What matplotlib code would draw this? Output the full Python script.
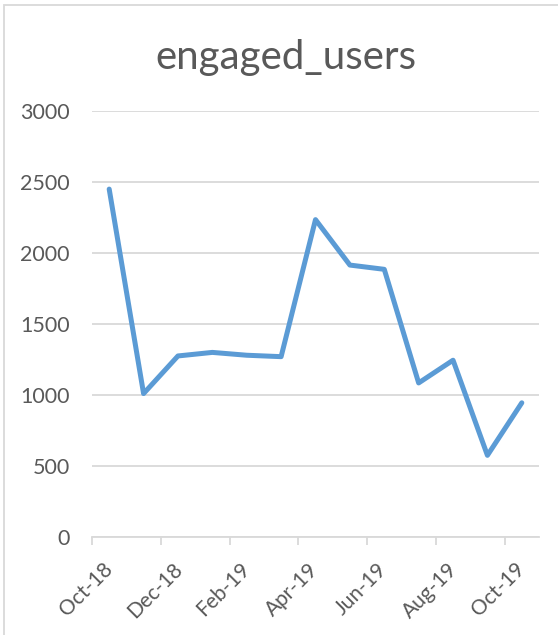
import matplotlib
matplotlib.use("Agg")
import matplotlib.pyplot as plt
import matplotlib.transforms as mtransforms
from matplotlib.patches import Rectangle

# 월별 값
months = ["Oct-18", "Nov-18", "Dec-18", "Jan-19", "Feb-19", "Mar-19", "Apr-19",
          "May-19", "Jun-19", "Jul-19", "Aug-19", "Sep-19", "Oct-19"]
engaged_users = [2450, 1010, 1275, 1300, 1280, 1270, 2235,
                 1915, 1885, 1085, 1245, 575, 945]
y_ticks = [0, 500, 1000, 1500, 2000, 2500, 3000]

LINE = "#5B9BD5"
GRID = "#D9D9D9"
TEXT = "#595959"
FONT = "Lato"

W, H = 558, 635
fig = plt.figure(figsize=(W / 100, H / 100), dpi=100)
# plot area: x 92..539 px, y 111..537 px
ax = fig.add_axes([92 / W, 1 - 537 / H, (539 - 92) / W, (537 - 111) / H])

xs = list(range(len(months)))
ax.plot(xs, engaged_users, color=LINE, lw=3.6, solid_capstyle="round",
        solid_joinstyle="round", zorder=3)

ax.set_xlim(-0.5, len(months) - 0.5)
ax.set_ylim(0, 3000)
ax.set_yticks(y_ticks)
ax.set_yticklabels([str(v) for v in y_ticks], fontsize=15.5, color=TEXT, family=FONT)
ax.yaxis.grid(True, color=GRID, lw=1.3)
ax.tick_params(axis="y", length=0, pad=16)

tick_pos = [i - 0.5 for i in range(0, len(months), 2)]
ax.set_xticks(tick_pos)
ax.set_xticklabels(months[::2], rotation=45, ha="center",
                   fontsize=15, color=TEXT, family=FONT)
ax.tick_params(axis="x", length=6, width=1.3, color=GRID, pad=10)
shift = mtransforms.ScaledTranslation(-6 / 100, 0, fig.dpi_scale_trans)
for lab in ax.get_xticklabels():
    lab.set_transform(lab.get_transform() + shift)

for s in ["top", "right", "left"]:
    ax.spines[s].set_visible(False)
ax.spines["bottom"].set_color(GRID)
ax.spines["bottom"].set_linewidth(1.3)
ax.set_axisbelow(True)

fig.text(286 / W, 1 - 58 / H, "engaged_users", ha="center", va="center",
         fontsize=29, color=TEXT, family=FONT)

# 차트 바깥 테두리
fig.patches.append(Rectangle((4 / W, -0.1), 1.2, 1 - 5 / H + 0.1,
                             transform=fig.transFigure, fill=False,
                             edgecolor=GRID, lw=1.3))

fig.savefig("out.png", dpi=100)
